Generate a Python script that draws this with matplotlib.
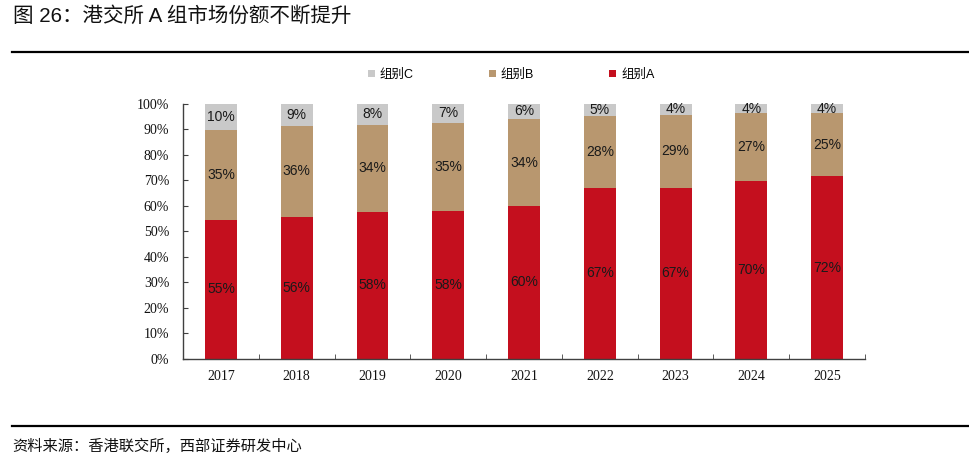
import matplotlib
matplotlib.use("Agg")
import matplotlib.pyplot as plt
import numpy as np
from matplotlib.lines import Line2D
from matplotlib.ticker import FixedLocator, PercentFormatter

plt.rcParams['font.family'] = ['Liberation Sans', 'Noto Sans CJK SC', 'DejaVu Sans']

years = ["2017", "2018", "2019", "2020", "2021", "2022", "2023", "2024", "2025"]
group_a = [54.6, 55.6, 57.7, 58.0, 60.0, 67.1, 67.0, 69.6, 71.6]
group_b = [35.0, 35.8, 34.1, 34.6, 33.9, 28.2, 28.6, 26.6, 24.6]
group_c = [10.4, 8.6, 8.2, 7.4, 6.1, 4.7, 4.4, 3.8, 3.8]

col_a = "#C40F1E"
col_b = "#B8976F"
col_c = "#C9C9C9"

fig = plt.figure(figsize=(9.7, 4.68), dpi=100)
ax = fig.add_axes([0.1887, 0.2329, 0.7031, 0.5455])

x = np.arange(len(years))
a = np.array(group_a) / 100
b = np.array(group_b) / 100
c = np.array(group_c) / 100
w = 0.42

ax.bar(x, a, w, color=col_a, label="组别A")
ax.bar(x, b, w, bottom=a, color=col_b, label="组别B")
ax.bar(x, c, w, bottom=a + b, color=col_c, label="组别C")

for i in range(len(years)):
    ax.text(x[i], a[i] / 2, f"{group_a[i]:.0f}%", ha="center", va="center",
            fontsize=10, color="#1a1a1a")
    ax.text(x[i], a[i] + b[i] / 2, f"{group_b[i]:.0f}%", ha="center", va="center",
            fontsize=10, color="#1a1a1a")
    ax.text(x[i], a[i] + b[i] + c[i] / 2, f"{group_c[i]:.0f}%", ha="center",
            va="center", fontsize=10, color="#1a1a1a")

ax.set_xlim(-0.5, len(years) - 0.5)
ax.set_ylim(0, 1)
ax.yaxis.set_major_locator(FixedLocator(np.linspace(0, 1, 11)))
ax.yaxis.set_major_formatter(PercentFormatter(1.0, decimals=0))
ax.set_xticks(x)
ax.set_xticklabels(years)
ax.xaxis.set_minor_locator(FixedLocator(np.arange(0.5, len(years), 1.0)))

for side in ["top", "right"]:
    ax.spines[side].set_visible(False)
for side in ["left", "bottom"]:
    ax.spines[side].set_color("#404040")
    ax.spines[side].set_linewidth(1.0)

ax.tick_params(axis="x", which="major", length=0, pad=8)
ax.tick_params(axis="x", which="minor", direction="in", length=3.5, color="#404040")
ax.tick_params(axis="y", direction="in", length=3.5, color="#404040", pad=10)
for lab in ax.get_xticklabels() + ax.get_yticklabels():
    lab.set_fontfamily("Liberation Serif")
    lab.set_fontsize(10)
    lab.set_color("#111111")

handles, labels = ax.get_legend_handles_labels()
fig.legend(handles[::-1], labels[::-1], loc="center", bbox_to_anchor=(0.527, 0.84),
           ncol=3, frameon=False, fontsize=9, handlelength=0.55, handleheight=0.55,
           handletextpad=0.4, columnspacing=6.0)

fig.text(0.013, 0.966, "图 26：港交所 A 组市场份额不断提升", fontsize=14.8,
         ha="left", va="center", color="#111111")
fig.add_artist(Line2D([0.012, 1.0], [1 - 52 / 468, 1 - 52 / 468], color="black", lw=1.6))
fig.add_artist(Line2D([0.012, 1.0], [1 - 426 / 468, 1 - 426 / 468], color="black", lw=1.6))
fig.text(0.013, 1 - 446 / 468, "资料来源：香港联交所，西部证券研发中心", fontsize=11,
         ha="left", va="center", color="#111111")

fig.savefig("out.png", dpi=100)
